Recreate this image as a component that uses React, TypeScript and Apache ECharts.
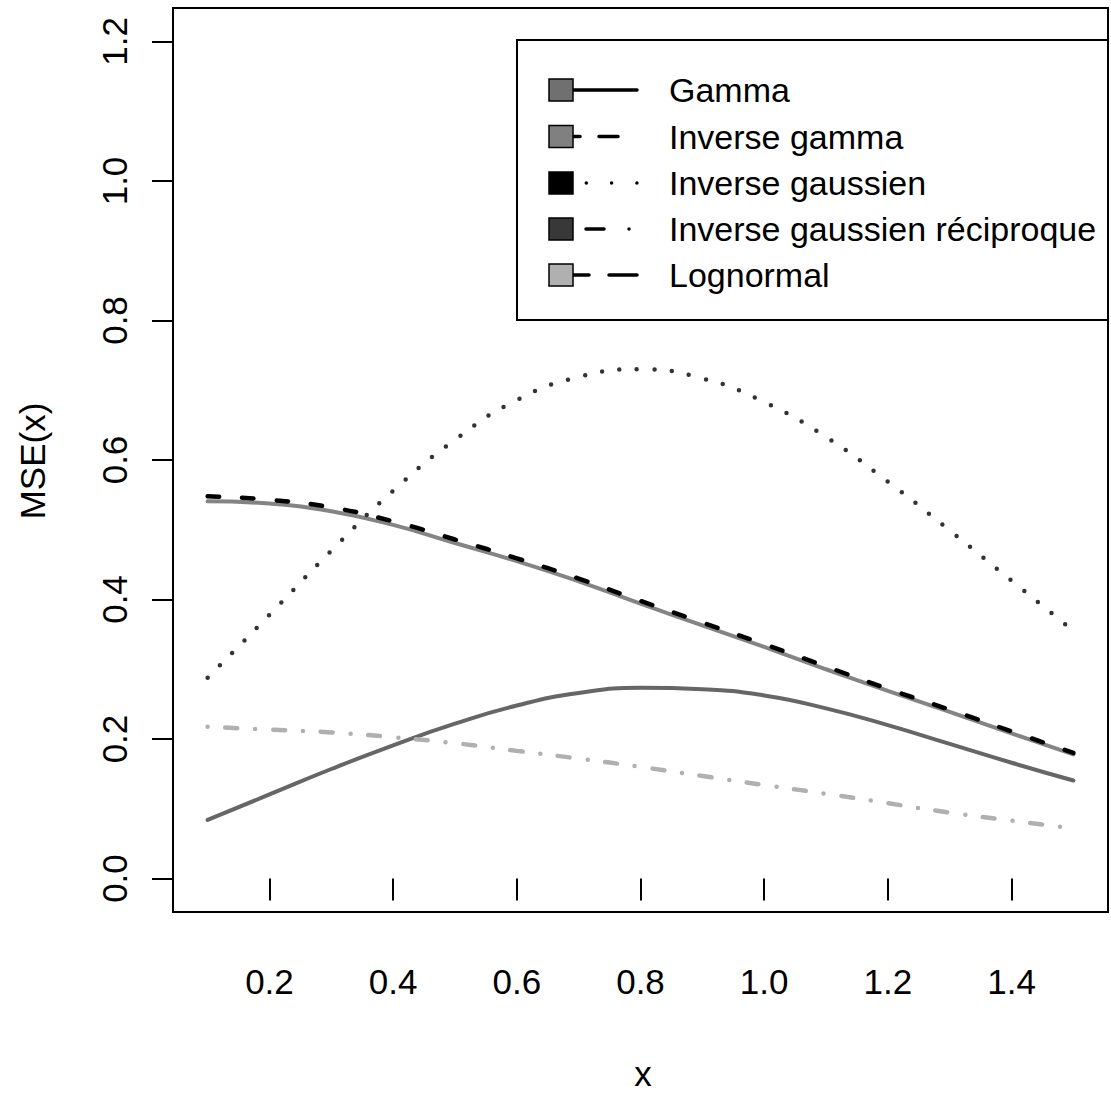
import React, { useEffect, useRef } from "react";
import * as echarts from "echarts";

const xValues = [0.1, 0.2, 0.3, 0.4, 0.5, 0.6, 0.7, 0.8, 0.9, 1.0, 1.1, 1.2, 1.3, 1.4, 1.5];
const gamma = [0.084, 0.1205, 0.157, 0.191, 0.222, 0.248, 0.266, 0.2735, 0.2715, 0.2625, 0.244, 0.22, 0.193, 0.166, 0.1405];
const inverseGamma = [0.541, 0.5375, 0.5265, 0.507, 0.481, 0.455, 0.426, 0.394, 0.363, 0.332, 0.3, 0.269, 0.239, 0.208, 0.178];
const inverseGaussien = [0.288, 0.378, 0.47, 0.556, 0.629, 0.686, 0.719, 0.73, 0.717, 0.683, 0.633, 0.569, 0.499, 0.427, 0.355];
const inverseGaussienReciproque = [0.2175, 0.2135, 0.2095, 0.2025, 0.194, 0.183, 0.172, 0.16, 0.147, 0.134, 0.1215, 0.108, 0.0945, 0.083, 0.072];
const lognormal = [0.548, 0.543, 0.532, 0.512, 0.486, 0.459, 0.43, 0.398, 0.367, 0.336, 0.304, 0.272, 0.242, 0.211, 0.18];

const xTicks = [0.2, 0.4, 0.6, 0.8, 1.0, 1.2, 1.4];
const yTicks = [0.0, 0.2, 0.4, 0.6, 0.8, 1.0, 1.2];

const legendNames = ["Gamma", "Inverse gamma", "Inverse gaussien", "Inverse gaussien réciproque", "Lognormal"];
const legendFills = ["#707070", "#808080", "#000000", "#383838", "#b0b0b0"];

const FONT = '"Liberation Sans", Arial, Helvetica, sans-serif';

function pairs(vals: number[]) {
  return xValues.map((x, i) => [x, vals[i]]);
}

export default function App() {
  const ref = useRef<HTMLDivElement>(null);
  useEffect(() => {
    if (!ref.current) return;
    const chart = echarts.init(ref.current, null, { renderer: "svg" });

    const legendRowsY = [90, 136.5, 183, 229, 275];
    const legendDashes: (number[] | null)[] = [null, [19, 19], [0, 25.3], [0, 25, 18, 25], [28, 20]];
    const graphics: any[] = [
      {
        type: "rect",
        shape: { x: 517, y: 40, width: 591, height: 280 },
        style: { fill: "#fff", stroke: "#000", lineWidth: 2 },
        z: 100,
      },
    ];
    legendNames.forEach((name, i) => {
      const cy = legendRowsY[i];
      graphics.push({
        type: "line",
        shape: { x1: 561, y1: cy, x2: 637, y2: cy },
        style: {
          stroke: "#000",
          lineWidth: 3.5,
          lineDash: legendDashes[i] || undefined,
          lineCap: "round",
        },
        z: 101,
      });
      graphics.push({
        type: "rect",
        shape: { x: 549, y: cy - 11, width: 24, height: 22 },
        style: { fill: legendFills[i], stroke: "#000", lineWidth: 1.5 },
        z: 102,
      });
      graphics.push({
        type: "text",
        x: 669,
        y: cy,
        style: {
          text: name,
          fontSize: 34,
          fontFamily: FONT,
          fill: "#000",
          align: "left",
          verticalAlign: "middle",
        },
        z: 102,
      });
    });
    graphics.push({
      type: "text",
      x: 643,
      y: 1091,
      style: { text: "x", fontSize: 35, fontFamily: FONT, fill: "#000", align: "center", verticalAlign: "bottom" },
    });
    graphics.push({
      type: "text",
      x: 32,
      y: 461,
      rotation: Math.PI / 2,
      style: { text: "MSE(x)", fontSize: 35, fontFamily: FONT, fill: "#000", align: "center", verticalAlign: "middle" },
    });

    const option: any = {
      animation: false,
      backgroundColor: "#ffffff",
      grid: {
        left: 173,
        top: 8,
        right: 3,
        bottom: 181,
        show: true,
        borderColor: "#000",
        borderWidth: 2,
        backgroundColor: "transparent",
        containLabel: false,
        outerBoundsMode: "none",
      },
      xAxis: {
        type: "value",
        min: 0.044,
        max: 1.556,
        splitLine: { show: false },
        axisLine: { show: false },
        axisTick: {
          show: true,
          inside: false,
          length: 22,
          customValues: xTicks,
          lineStyle: { color: "#000", width: 2 },
        },
        axisLabel: {
          show: true,
          customValues: xTicks,
          margin: 52,
          fontSize: 35,
          fontFamily: FONT,
          color: "#000",
          formatter: (v: number) => v.toFixed(1),
        },
      },
      yAxis: {
        type: "value",
        min: -0.048,
        max: 1.248,
        splitLine: { show: false },
        axisLine: { show: false },
        axisTick: {
          show: true,
          inside: false,
          length: 21,
          customValues: yTicks,
          lineStyle: { color: "#000", width: 2 },
        },
        axisLabel: {
          show: true,
          customValues: yTicks,
          rotate: 90,
          margin: 41,
          fontSize: 35,
          fontFamily: FONT,
          color: "#000",
          formatter: (v: number) => v.toFixed(1),
        },
      },
      graphic: graphics,
      series: [
        {
          name: "Gamma",
          type: "line",
          data: pairs(gamma),
          smooth: 0.5,
          symbol: "none",
          lineStyle: { color: "#666666", width: 4, cap: "round" },
          z: 2,
        },
        {
          name: "Inverse gamma",
          type: "line",
          data: pairs(inverseGamma),
          smooth: 0.5,
          symbol: "none",
          lineStyle: { color: "#848484", width: 4, cap: "round" },
          z: 2,
        },
        {
          name: "Inverse gaussien",
          type: "line",
          data: pairs(inverseGaussien),
          smooth: 0.5,
          symbol: "none",
          lineStyle: { color: "#333333", width: 4.5, type: [0, 17.5], cap: "round" },
          z: 3,
        },
        {
          name: "Inverse gaussien réciproque",
          type: "line",
          data: pairs(inverseGaussienReciproque),
          smooth: 0.5,
          symbol: "none",
          lineStyle: { color: "#b0b0b0", width: 4.5, type: [0, 17.7, 12, 18], cap: "round" },
          z: 3,
        },
        {
          name: "Lognormal",
          type: "line",
          data: pairs(lognormal),
          smooth: 0.5,
          symbol: "none",
          lineStyle: { color: "#000000", width: 4.5, type: [11.5, 23], cap: "round" },
          z: 4,
        },
      ],
    };
    chart.setOption(option);
    return () => {
      chart.dispose();
    };
  }, []);

  return (
    <div
      ref={ref}
      style={{ position: "absolute", left: 0, top: 0, width: 1111, height: 1093, background: "#fff" }}
    />
  );
}
